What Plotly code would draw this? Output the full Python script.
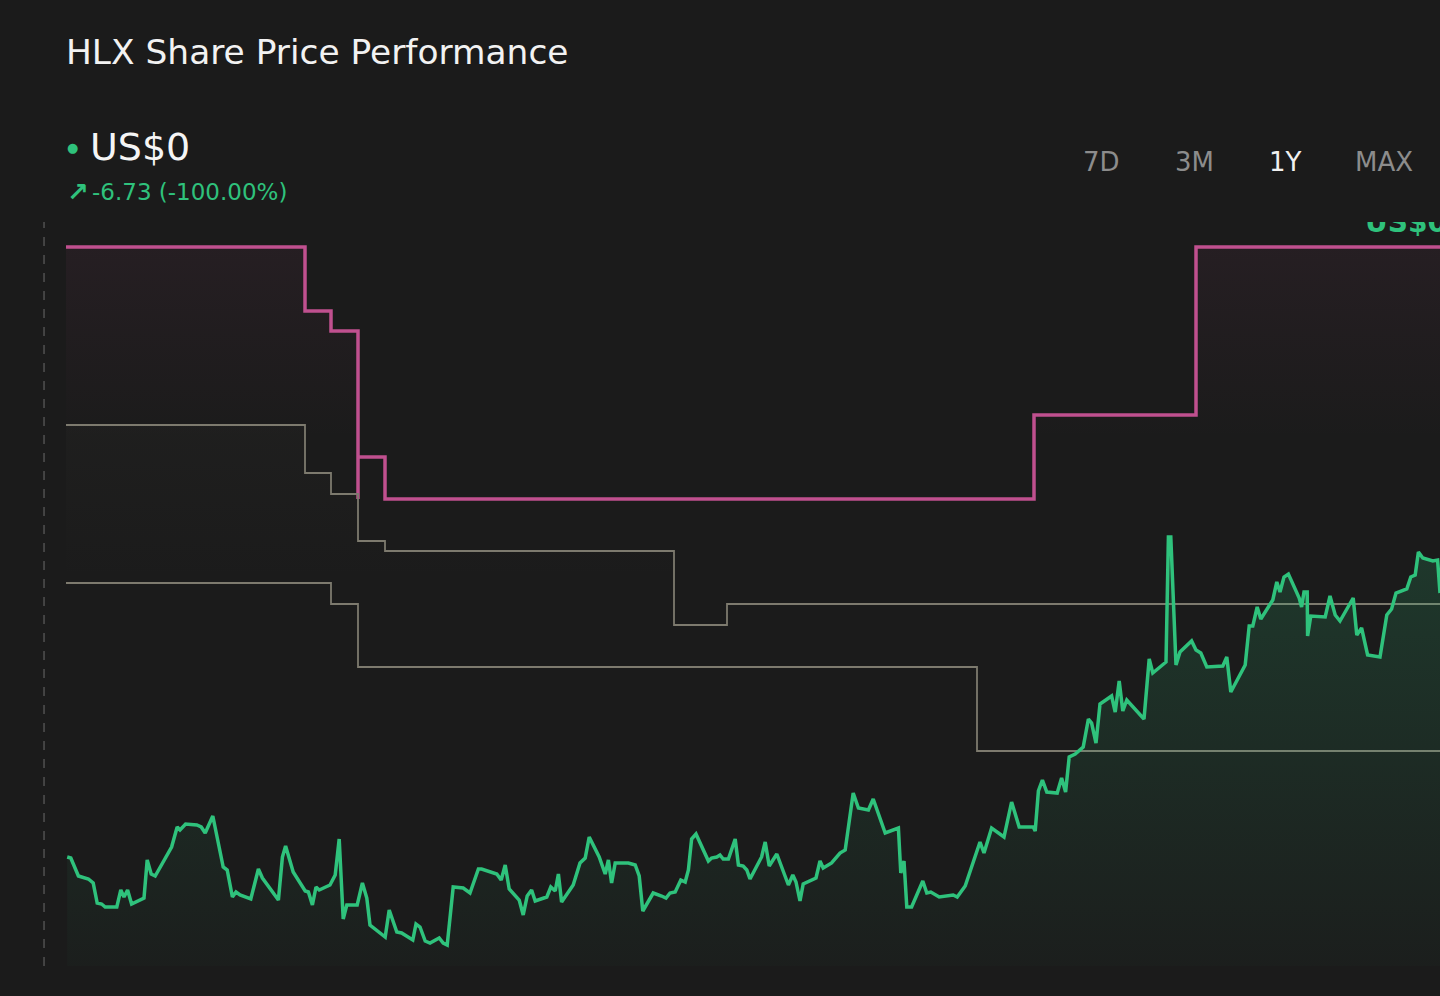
import plotly.graph_objects as go

BG = '#1b1b1b'
GREEN = '#2fc27c'
PINK = '#c0508f'
GREY = '#7d7a6e'

# share price (days since start, US$)
PRICE_DAY = [
    0.3, 1.2, 3.1, 5.6, 6.8, 7.8, 8.9, 9.8, 12.7, 13.7,
    14.5, 15.4, 16.4, 19.5, 20.3, 21.3, 22.3, 23.5, 25.6, 26.4,
    27.8, 28.5, 29.9, 32.7, 33.8, 34.8, 36.7, 39.3, 40.3, 41.6,
    42.5, 43.5, 46.2, 48.1, 49.1, 53.1, 54.1, 54.9, 56.8, 59.8,
    60.6, 61.6, 62.5, 63.3, 66.0, 67.3, 68.3, 69.3, 70.2, 72.8,
    74.1, 75.2, 76.0, 77.3, 79.8, 80.8, 82.7, 83.9, 86.7, 87.5,
    88.5, 89.8, 91.0, 93.3, 94.3, 95.3, 96.8, 99.3, 101.0, 103.1,
    103.9, 107.7, 108.8, 109.8, 110.8, 113.3, 114.3, 115.3, 116.4, 117.3,
    120.2, 121.2, 122.3, 123.1, 123.9, 126.8, 128.5, 129.8, 130.8, 133.3,
    134.8, 135.6, 136.4, 137.3, 140.6, 142.3, 143.3, 144.2, 146.8, 148.9,
    150.0, 151.0, 152.3, 153.7, 154.8, 155.6, 156.4, 157.5, 160.6, 161.4,
    162.7, 163.5, 164.3, 165.6, 167.3, 168.1, 169.3, 170.2, 171.0, 173.9,
    174.8, 175.8, 177.7, 180.6, 181.7, 182.5, 183.5, 184.3, 187.5, 188.5,
    189.3, 191.4, 193.5, 194.8, 196.8, 198.1, 200.6, 201.8, 204.8, 208.1,
    208.7, 209.5, 210.2, 211.4, 214.2, 215.2, 216.2, 218.3, 221.8, 222.8,
    224.8, 228.5, 229.5, 231.4, 234.5, 236.4, 238.3, 241.8, 242.3, 243.1,
    244.1, 245.2, 247.8, 248.9, 249.9, 250.8, 252.3, 254.3, 255.6, 256.4,
    257.5, 258.5, 261.4, 262.3, 263.3, 264.2, 265.2, 269.5, 270.8, 271.7,
    275.0, 275.6, 276.2, 277.5, 278.5, 281.4, 282.5, 283.7, 285.2, 289.2,
    290.2, 291.2, 294.8, 295.8, 296.7, 297.8, 298.7, 301.7, 302.7, 303.5,
    304.5, 305.6, 308.3, 308.9, 309.5, 310.3, 310.4, 311.2, 314.8, 316.0,
    317.3, 318.5, 321.8, 322.7, 323.9, 325.4, 328.5, 330.2, 331.4, 332.5,
    335.2, 336.2, 337.3, 338.1, 339.2, 341.7, 342.9, 343.5,
]
PRICE = [
    6.43, 6.42, 6.24, 6.21, 6.17, 5.97, 5.96, 5.93, 5.93, 6.10,
    6.03, 6.10, 5.96, 6.02, 6.40, 6.26, 6.24, 6.33, 6.47, 6.53,
    6.73, 6.70, 6.76, 6.75, 6.73, 6.67, 6.84, 6.33, 6.30, 6.03,
    6.08, 6.05, 6.01, 6.31, 6.22, 6.00, 6.43, 6.54, 6.28, 6.09,
    6.08, 5.95, 6.13, 6.10, 6.15, 6.25, 6.61, 5.81, 5.95, 5.95,
    6.17, 6.02, 5.75, 5.71, 5.63, 5.90, 5.68, 5.67, 5.60, 5.76,
    5.73, 5.59, 5.57, 5.62, 5.57, 5.55, 6.13, 6.12, 6.07, 6.31,
    6.31, 6.26, 6.20, 6.35, 6.11, 6.00, 5.85, 6.04, 6.10, 5.99,
    6.03, 6.13, 6.09, 6.26, 5.98, 6.15, 6.37, 6.42, 6.63, 6.43,
    6.26, 6.40, 6.17, 6.37, 6.37, 6.35, 6.24, 5.89, 6.07, 6.04,
    6.02, 6.07, 6.08, 6.20, 6.18, 6.30, 6.61, 6.66, 6.39, 6.42,
    6.43, 6.45, 6.41, 6.41, 6.61, 6.35, 6.34, 6.30, 6.21, 6.43,
    6.58, 6.34, 6.46, 6.15, 6.25, 6.18, 5.99, 6.16, 6.22, 6.39,
    6.32, 6.37, 6.47, 6.50, 7.07, 6.92, 6.90, 7.01, 6.67, 6.72,
    6.27, 6.39, 5.93, 5.93, 6.19, 6.07, 6.08, 6.03, 6.05, 6.03,
    6.14, 6.58, 6.47, 6.72, 6.63, 6.98, 6.73, 6.73, 6.69, 7.09,
    7.20, 7.08, 7.07, 7.22, 7.08, 7.43, 7.46, 7.53, 7.81, 7.77,
    7.57, 7.96, 8.04, 7.88, 8.19, 7.89, 8.00, 7.81, 8.41, 8.27,
    8.38, 9.63, 9.63, 8.35, 8.48, 8.59, 8.50, 8.47, 8.33, 8.34,
    8.43, 8.08, 8.35, 8.74, 8.74, 8.93, 8.81, 9.00, 9.18, 9.08,
    9.23, 9.26, 9.02, 8.93, 9.08, 9.08, 8.64, 8.84, 8.83, 9.04,
    8.85, 8.79, 9.02, 8.65, 8.72, 8.45, 8.43, 8.85, 8.91, 9.07,
    9.11, 9.23, 9.25, 9.48, 9.42, 9.39, 9.40, 9.07,
]

# analyst target steps
HIGH_DAY = [0, 59.75, 66.25, 73.0, 73.0, 79.75, 242.0, 282.5, 345]
HIGH_VAL = [12.53, 11.89, 11.69, 10.01, 10.43, 10.01, 10.85, 12.53, 12.53]
MID_DAY = [0, 59.75, 66.25, 73.0, 79.75, 152.0, 165.25, 345]
MID_VAL = [10.75, 10.27, 10.06, 9.59, 9.49, 8.75, 8.96, 8.96]
LOW_DAY = [0, 66.25, 73.0, 227.75, 345]
LOW_VAL = [9.17, 8.96, 8.33, 7.49, 7.49]

BUTTONS = ['7D', '3M', '1Y', 'MAX']
BUTTON_X = [0.754, 0.821, 0.8872, 0.9593]
ACTIVE = '1Y'

X_RANGE = [0, 343.5]
Y_RANGE = [5.34, 12.78]


def gradient(rgb, a_lo, a_hi, lo, hi):
    return dict(
        type='vertical', start=lo, stop=hi,
        colorscale=[[0, f'rgba({rgb},{a_lo})'], [1, f'rgba({rgb},{a_hi})']],
    )


fig = go.Figure()

fig.add_trace(go.Scatter(
    x=HIGH_DAY, y=HIGH_VAL, mode='lines', line=dict(color=PINK, width=3.5, shape='hv'),
    fill='tozeroy', fillgradient=gradient('192,80,143', 0, 0.065, 10.6, 12.53),
    hoverinfo='skip',
))
fig.add_trace(go.Scatter(
    x=MID_DAY, y=MID_VAL, mode='lines', line=dict(color=GREY, width=1.8, shape='hv'),
    fill='tozeroy', fillgradient=gradient('125,122,110', 0, 0.04, 9.2, 10.75),
    hoverinfo='skip',
))
fig.add_trace(go.Scatter(
    x=LOW_DAY, y=LOW_VAL, mode='lines', line=dict(color=GREY, width=1.8, shape='hv'),
    hoverinfo='skip',
))
fig.add_trace(go.Scatter(
    x=PRICE_DAY, y=PRICE, mode='lines', line=dict(color=GREEN, width=3.5),
    fill='tozeroy', fillgradient=gradient('47,194,124', 0.02, 0.18, Y_RANGE[0], 9.63),
    hoverinfo='skip',
))
# last-price label, clipped by the top of the plot
fig.add_trace(go.Scatter(
    x=[324.75], y=[12.75], mode='text', text=['US$0'], textposition='middle right',
    textfont=dict(family='DejaVu Sans', size=28, color=GREEN, weight='bold'),
    cliponaxis=True, hoverinfo='skip',
))

annotations = [
    dict(text='HLX Share Price Performance', x=-0.0015, y=1.2285, xanchor='left', yanchor='middle',
         font=dict(size=34.4, color='#f2f2f2')),
    dict(text='●', x=0.0044, y=1.1008, xanchor='center', yanchor='middle',
         font=dict(size=13, color=GREEN)),
    dict(text='US$0', x=0.016, y=1.1008, xanchor='left', yanchor='middle',
         font=dict(size=38, color='#f5f5f5')),
    dict(text='<b>↗</b>', x=-0.0005, y=1.0403, xanchor='left', yanchor='middle',
         font=dict(size=26, color=GREEN)),
    dict(text='-6.73 (-100.00%)', x=0.0175, y=1.0403, xanchor='left', yanchor='middle',
         font=dict(size=23, color=GREEN)),
]
for label, bx in zip(BUTTONS, BUTTON_X):
    annotations.append(dict(
        text=label, x=bx, y=1.0806, xanchor='center', yanchor='middle',
        font=dict(size=26, color='#f0f0f0' if label == ACTIVE else '#8c8c8c'),
    ))
for a in annotations:
    a.update(xref='paper', yref='paper', showarrow=False)

fig.update_layout(
    width=1440,
    height=996,
    paper_bgcolor=BG,
    plot_bgcolor=BG,
    margin=dict(l=66, r=0, t=222, b=30),
    font=dict(family='DejaVu Sans', color='#f2f2f2'),
    showlegend=False,
    hovermode=False,
    xaxis=dict(range=X_RANGE, visible=False, fixedrange=True),
    yaxis=dict(range=Y_RANGE, visible=False, fixedrange=True),
    annotations=annotations,
    shapes=[dict(
        type='line', xref='paper', yref='paper', x0=-0.016, x1=-0.016, y0=0, y1=1,
        line=dict(color='#6a6a6a', width=1, dash='dash'),
    )],
)

# drop the default page margin so the figure fills the window
page_css = (
    "document.body.style.margin='0';"
    "document.body.style.overflow='hidden';"
    f"document.body.style.background='{BG}';"
)
fig.write_html('out.html', config={'displayModeBar': False}, post_script=page_css)
